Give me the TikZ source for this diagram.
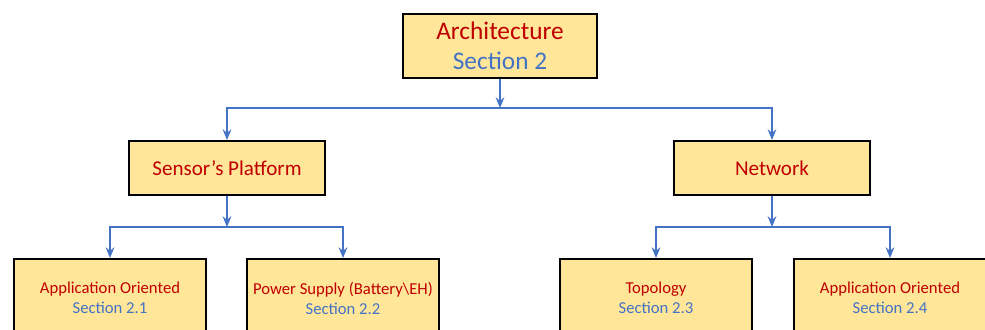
\documentclass[tikz,border=0pt]{standalone}
\usepackage{fontspec}
\setmainfont{Carlito}
\usetikzlibrary{arrows.meta}
\definecolor{boxfill}{HTML}{FFE699}
\definecolor{tred}{HTML}{C00000}
\definecolor{tblue}{HTML}{4472C4}
\definecolor{lblue}{HTML}{4472C4}
\tikzset{
  box/.style={draw=black, line width=1.5pt, fill=boxfill, inner sep=0pt, align=center},
  topbox/.style={box, minimum width=145.5pt, minimum height=48pt, font=\fontsize{19}{22.5}\selectfont},
  midbox/.style={box, minimum width=147pt, minimum height=40.5pt, font=\fontsize{15.8}{19}\selectfont},
  lowbox/.style={box, minimum width=144pt, minimum height=58.5pt, font=\fontsize{12.5}{15}\selectfont},
  conn/.style={draw=lblue, line width=2pt},
  arr/.style={conn, -{Stealth[length=8pt,width=6.5pt]}}
}
\begin{document}
\begin{tikzpicture}[x=0.75pt,y=-0.75pt]
\useasboundingbox (0,0) rectangle (985,329);
\clip (0,0) rectangle (985,329);
\node[topbox, anchor=north] (arch) at (500,13) {\textcolor{tred}{Architecture}\\\textcolor{tblue}{Section 2}};
\node[midbox, anchor=north] (sens) at (227,140) {\textcolor{tred}{Sensor’s Platform}};
\node[midbox, anchor=north] (net) at (772,140) {\textcolor{tred}{Network}};
\node[lowbox, anchor=north] (app1) at (110,258) {\textcolor{tred}{Application Oriented}\\\textcolor{tblue}{Section 2.1}};
\node[lowbox, anchor=north] (pow) at (343,258) {\textcolor{tred}{Power Supply (Battery\textbackslash EH)}\\\textcolor{tblue}{Section 2.2}};
\node[lowbox, anchor=north] (topo) at (656,258) {\textcolor{tred}{Topology}\\\textcolor{tblue}{Section 2.3}};
\node[lowbox, anchor=north] (app2) at (890,258) {\textcolor{tred}{Application Oriented}\\\textcolor{tblue}{Section 2.4}};
% level 1
\coordinate (j0) at (500,108);
\draw[arr] (arch.south) -- (j0);
\draw[arr] (j0) -| (sens.north);
\draw[arr] (j0) -| (net.north);
% level 2 left
\coordinate (j1) at (227,227);
\draw[arr] (sens.south) -- (j1);
\draw[arr] (j1) -| (app1.north);
\draw[arr] (j1) -| (pow.north);
% level 2 right
\coordinate (j2) at (772,227);
\draw[arr] (net.south) -- (j2);
\draw[arr] (j2) -| (topo.north);
\draw[arr] (j2) -| (app2.north);
\end{tikzpicture}
\end{document}
